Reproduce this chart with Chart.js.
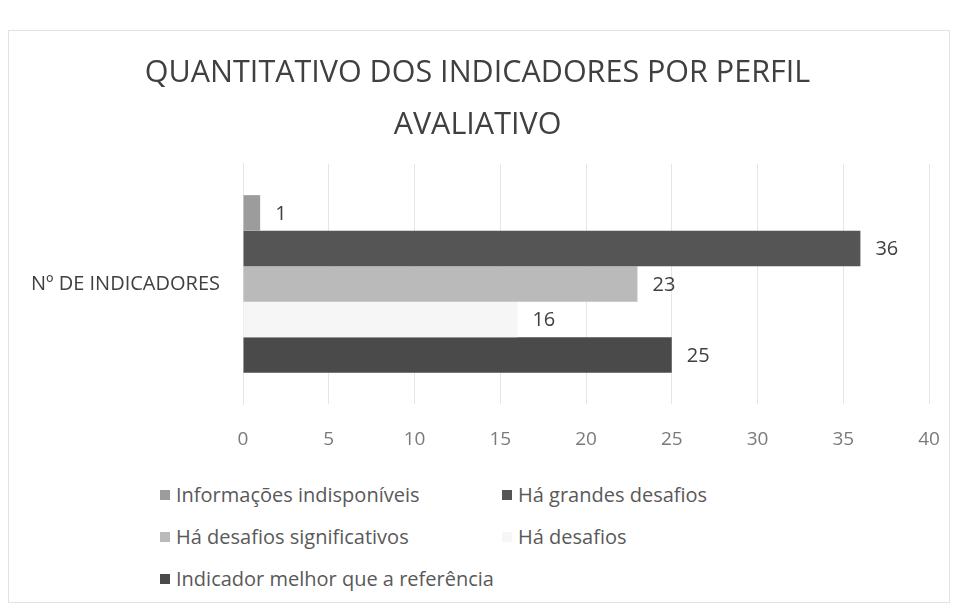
<!DOCTYPE html>
<html>
<head>
<meta charset="utf-8">
<script src="https://cdn.jsdelivr.net/npm/chart.js@4/dist/chart.umd.min.js"></script>
<style>
  body { margin: 0; background: #fff; }
  #wrap { position: relative; width: 959px; height: 606px; font-family: "Open Sans", sans-serif; }
  #frame { position: absolute; left: 8px; top: 30px; width: 940px; height: 571px; border: 1px solid #e2e2e2; }
  #cv { position: absolute; left: 0; top: 0; }
  #legend { position: absolute; left: 160px; top: 481px; width: 700px; display: grid; grid-template-columns: 342px 300px; row-gap: 15px; }
  .item { display: flex; align-items: center; font-size: 20px; color: #595959; height: 27px; white-space: nowrap; }
  .box { width: 10px; height: 10px; margin-right: 6px; }
</style>
</head>
<body>
<div id="wrap">
  <div id="frame"></div>
  <canvas id="cv" width="959" height="460"></canvas>
  <div id="legend"></div>
</div>
<script>
const titulo = ["QUANTITATIVO DOS INDICADORES POR PERFIL", "AVALIATIVO"];
const categorias = ["Nº DE INDICADORES"];
const series = ["Informações indisponíveis", "Há grandes desafios", "Há desafios significativos", "Há desafios", "Indicador melhor que a referência"];
const valores = [[1], [36], [23], [16], [25]];
const cores = ["#9c9c9c", "#555555", "#bababa", "#f6f6f6", "#4a4a4a"];
const ticksX = [0, 5, 10, 15, 20, 25, 30, 35, 40];

// rótulos de valor no fim de cada barra
const rotulos = {
  id: "rotulos",
  afterDatasetsDraw(chart) {
    const ctx = chart.ctx;
    ctx.save();
    ctx.font = "20px 'Open Sans', sans-serif";
    ctx.fillStyle = "#404040";
    ctx.textBaseline = "middle";
    chart.data.datasets.forEach((ds, i) => {
      chart.getDatasetMeta(i).data.forEach((bar, j) => {
        ctx.fillText(ds.data[j], bar.x + 15, bar.y + 1);
      });
    });
    ctx.restore();
  },
};

const datasets = series.map((nome, i) => ({
  label: nome,
  data: valores[i],
  backgroundColor: cores[i],
  categoryPercentage: 0.74,
  barPercentage: 1,
}));

new Chart(document.getElementById("cv").getContext("2d"), {
  type: "bar",
  data: { labels: categorias, datasets: datasets },
  plugins: [rotulos],
  options: {
    indexAxis: "y",
    responsive: false,
    animation: false,
    layout: { padding: { left: 26, right: 30, top: 47, bottom: 0 } },
    plugins: {
      legend: { display: false },
      tooltip: { enabled: false },
      title: {
        display: true,
        text: titulo,
        color: "#404040",
        font: { family: "'Open Sans', sans-serif", size: 30.5, weight: "normal", lineHeight: 1.72 },
        padding: { top: 0, bottom: 12 },
      },
    },
    scales: {
      x: {
        min: 0,
        max: 40,
        afterBuildTicks: (axis) => { axis.ticks = ticksX.map((v) => ({ value: v })); },
        afterFit: (axis) => { axis.height = 56; },
        grid: { color: "#e6e6e6", tickColor: "rgba(0,0,0,0)", tickLength: 16 },
        border: { display: false },
        ticks: { color: "#7a7a7a", font: { size: 19, family: "'Open Sans', sans-serif" }, padding: 8 },
      },
      y: {
        afterFit: (axis) => { axis.width = 217; },
        grid: { display: false },
        border: { color: "#e6e6e6" },
        ticks: { color: "#404040", font: { size: 20, family: "'Open Sans', sans-serif" }, padding: 15 },
      },
    },
  },
});

// legenda em HTML, duas colunas
const leg = document.getElementById("legend");
series.forEach((nome, i) => {
  const it = document.createElement("div");
  it.className = "item";
  const b = document.createElement("span");
  b.className = "box";
  b.style.background = cores[i];
  it.appendChild(b);
  it.appendChild(document.createTextNode(nome));
  leg.appendChild(it);
});
</script>
</body>
</html>
